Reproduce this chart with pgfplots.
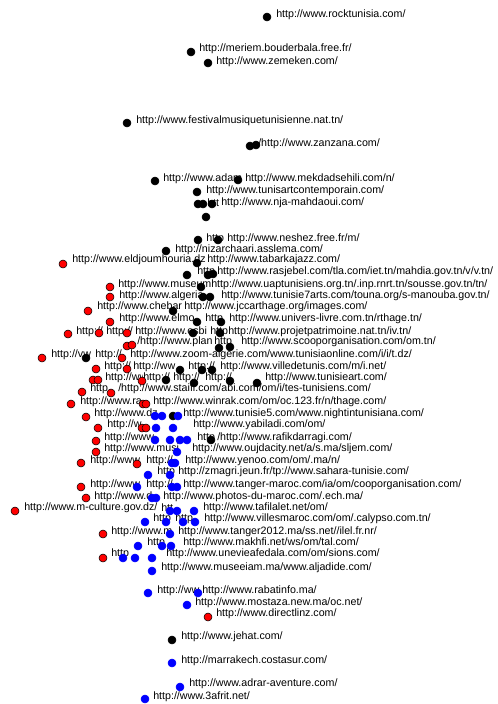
\documentclass[border=0pt]{standalone}
\usepackage{pgfplots}
\pgfplotsset{compat=1.18}
\usepackage{fontspec}
\setmainfont{Liberation Sans}

% positions are read in pixels off the 498x704 picture (1px = 0.75pt), y counted downwards
\pgfplotstableread{
x y
267 17
191 52
208 63
127 123
250 146
256 145
155 181
238 180
197 192
198 204
203 204
212 204
206 217
198 240
218 240
166 251
197 263
187 275
208 275
213 274
201 287
203 297
210 297
173 311
197 322
221 322
193 333
220 333
219 348
230 347
86 358
180 370
202 370
212 370
166 380
194 383
230 381
257 383
173 416
211 440
172 640
}\blacknodes

\pgfplotstableread{
x y
63 264
110 287
110 297
88 311
110 322
68 334
99 333
127 333
127 346
132 345
42 358
122 358
96 369
127 369
93 380
98 380
142 381
82 392
111 393
71 404
143 404
146 404
86 417
98 428
142 428
146 428
96 441
96 452
81 463
137 464
81 487
86 498
15 511
103 534
103 558
208 617
}\rednodes

\pgfplotstableread{
x y
155 416
162 416
178 416
156 428
173 428
155 440
170 440
180 440
187 440
177 452
172 463
175 463
148 475
170 475
137 487
172 487
177 487
152 498
156 498
170 511
177 511
194 511
145 522
166 522
183 522
195 522
170 534
138 546
162 546
171 546
123 558
135 558
152 558
152 571
148 593
198 593
187 605
172 663
180 687
145 699
}\bluenodes

\pgfplotstableread{
x y label
276 15 http://www.rocktunisia.com/
199 49 http://meriem.bouderbala.free.fr/
216 62 http://www.zemeken.com/
136 121 http://www.festivalmusiquetunisienne.nat.tn/
258 144 /http://www.zanzana.com/
163 179 http://www.adam
245 179 http://www.mekdadsehili.com/n/
206 191 http://www.tunisartcontemporain.com/
207 203 htt
221 203 http://www.nja-mahdaoui.com/
206 239 http
227 239 http://www.neshez.free.fr/m/
175 250 http://nizarchaari.asslema.com/
72 260 http://www.eldjoumhouria.dz
207 260 http://www.tabarkajazz.com/
197 272 http
217 272 http://www.rasjebel.com/tla.com/iet.tn/mahdia.gov.tn/v/v.tn/
118 285 http://www.museum
211 285 http://www.uaptunisiens.org.tn/.inp.rnrt.tn/sousse.gov.tn/tn/
119 296 http://www.algeria
221 296 http://www.tunisie7arts.com/touna.org/s-manouba.gov.tn/
97 307 http://www.chebar
184 307 http://www.jccarthage.org/images.com/
119 319 http://www.elmo
205 319 http
229 319 http://www.univers-livre.com.tn/rthage.tn/
76 332 http://
106 332 http://
135 332 http://www.esbi
210 332 http
228 332 http://www.projetpatrimoine.nat.tn/iv.tn/
137 342 /http://www.plan
214 342 http
241 342 http://www.scooporganisation.com/om.tn/
51 355 http://vw
95 355 http://
130 355 http://www.zoom-algerie.com/www.tunisiaonline.com/i/i/t.dz/
104 367 http://
133 367 http://ww
188 367 http://
220 367 http://www.villedetunis.com/m/i.net/
105 378 http://ww
143 378 http://
173 378 http://
205 378 http://
265 378 http://www.tunisieart.com/
90 389 http
118 389 /http://www.staifi.com/abi.com/om/i/tes-tunisiens.com/
80 402 http://www.ra
153 402 http://www.winrak.com/om/oc.123.fr/n/thage.com/
94 414 http://www.dz
183 414 http://www.tunisie5.com/www.nightintunisiana.com/
107 425 http://w
193 425 http://www.yabiladi.com/om/
104 438 http://www
197 438 http
217 438 /http://www.rafikdarragi.com/
104 449 http://www.musi
192 449 http://www.oujdacity.net/a/s.ma/sljem.com/
90 461 http://www
146 461 http://
185 461 http://www.yenoo.com/om/.ma/n/
157 472 http
178 472 http://zmagri.jeun.fr/tp://www.sahara-tunisie.com/
90 485 http://www
146 485 http://
183 485 http://www.tanger-maroc.com/ia/om/cooporganisation.com/
94 497 http://www.d
163 497 http://www.photos-du-maroc.com/.ech.ma/
24 508 http://www.m-culture.gov.dz/
161 508 htt
203 508 http://www.tafilalet.net/om/
153 519 http
175 519 http
204 519 http://www.villesmaroc.com/om/.calypso.com.tn/
111 532 http://www.m
178 532 http://www.tanger2012.ma/ss.net//ilel.fr.nr/
147 543 http
183 543 http://www.makhfi.net/ws/om/tal.com/
111 554 http
166 554 http://www.unevieafedala.com/om/sions.com/
161 568 http://www.museeiam.ma/www.aljadide.com/
157 591 http://ww
202 591 http://www.rabatinfo.ma/
195 603 http://www.mostaza.new.ma/oc.net/
216 614 http://www.directlinz.com/
181 637 http://www.jehat.com/
181 661 http://marrakech.costasur.com/
189 684 http://www.adrar-aventure.com/
153 697 http://www.3afrit.net/
}\labels

\definecolor{nodered}{RGB}{255,0,0}
\definecolor{nodeblue}{RGB}{0,0,255}

\begin{document}
\begin{tikzpicture}
\begin{axis}[
    at={(0,0)}, anchor=south west,
    width=373.5pt, height=528pt,
    scale only axis,
    hide axis,
    clip=false,
    xmin=0, xmax=498,
    ymin=0, ymax=704,
    y dir=reverse,
]
% labels first, so the dots sit on top of them
\addplot[draw=none, mark=none,
    nodes near coords,
    point meta=explicit symbolic,
    nodes near coords style={anchor=west, inner sep=0pt, fill=white,
        font=\fontsize{8}{9}\selectfont, text=black},
    ] table[x=x, y=y, meta=label] {\labels};

\addplot[only marks, mark=*, mark size=3pt, black,
    mark options={fill=black, draw=black}] table {\blacknodes};
\addplot[only marks, mark=*, mark size=3pt,
    mark options={fill=nodered, draw=black, line width=0.4pt}] table {\rednodes};
\addplot[only marks, mark=*, mark size=3pt,
    mark options={fill=nodeblue, draw=nodeblue}] table {\bluenodes};
\end{axis}
\pgfresetboundingbox
\path (0,0) rectangle (373.5pt,528pt);
\end{tikzpicture}
\end{document}
